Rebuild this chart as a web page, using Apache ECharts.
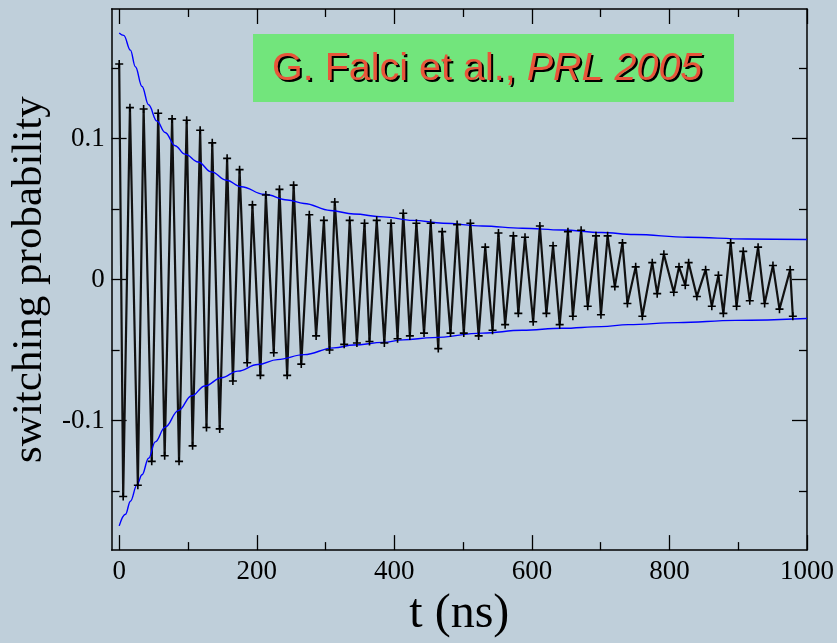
<!DOCTYPE html>
<html>
<head>
    <meta charset="utf-8">
    <script src="https://cdn.jsdelivr.net/npm/echarts@6.0.0/dist/echarts.min.js"></script>
    <style>
        body { margin: 0; background: #bfcfda; }
    </style>
</head>
<body>
    <div id="main" style="width: 837px;height:643px;"></div>

<script type="text/javascript">
var tData = [0, 5.8, 15.6, 27.1, 35.5, 47.3, 56.7, 66.1, 76.9, 87.0,
    98.1, 106.7, 117.7, 126.9, 135.3, 146.1, 156.9, 165.3, 175.0, 186.1,
    193.7, 205.3, 213.2, 224.7, 233.0, 244.2, 253.6, 264.7, 276.4, 286.3,
    297.6, 305.8, 313.4, 327.1, 335.1, 345.6, 356.7, 363.9, 374.4, 385.5,
    395.2, 404.7, 413.0, 422.6, 432.1, 443.2, 452.9, 463.9, 469.6, 481.7,
    491.3, 501.0, 510.6, 522.6, 532.2, 542.8, 551.4, 561.1, 573.1, 580.3,
    590.0, 601.9, 611.6, 621.1, 630.8, 640.4, 652.4, 659.6, 671.6, 681.2,
    693.2, 700.4, 710.1, 720.6, 731.7, 738.9, 750.9, 760.6, 775.0, 782.2,
    791.9, 806.3, 813.9, 823.0, 827.9, 839.9, 852.6, 861.6, 871.2, 878.4,
    889.0, 897.6, 907.3, 916.8, 928.9, 938.4, 950.5, 960.0, 975.5, 979.4];
var pData = [0.153, -0.154, 0.122, -0.146, 0.121, -0.129, 0.118, -0.125, 0.114, -0.129,
    0.113, -0.118, 0.106, -0.105, 0.097, -0.106, 0.086, -0.072, 0.078, -0.059,
    0.053, -0.068, 0.060, -0.052, 0.064, -0.068, 0.067, -0.060, 0.046, -0.040,
    0.042, -0.050, 0.055, -0.046, 0.042, -0.045, 0.040, -0.044, 0.042, -0.045,
    0.040, -0.042, 0.047, -0.040, 0.040, -0.038, 0.040, -0.049, 0.034, -0.038,
    0.039, -0.038, 0.040, -0.040, 0.023, -0.036, 0.033, -0.032, 0.031, -0.024,
    0.030, -0.030, 0.038, -0.024, 0.024, -0.032, 0.034, -0.026, 0.035, -0.019,
    0.031, -0.025, 0.031, -0.005, 0.026, -0.017, 0.009, -0.026, 0.012, -0.010,
    0.018, -0.009, 0.009, -0.004, 0.012, -0.012, 0.007, -0.019, 0.003, -0.024,
    0.026, -0.019, 0.020, -0.015, 0.023, -0.017, 0.010, -0.021, 0.007, -0.026];

// blue envelope, upper and lower branch
var tUp = [0, 6.6, 16.3, 23.5, 33.2, 42.7, 54.8, 66.8, 81.2, 95.6, 114.8, 134.1, 155.8, 177.4,
    211, 244.6, 268.7, 307, 341, 384, 427, 471, 528, 586, 644, 701, 749, 827, 913, 1000];
var vUp = [0.175, 0.1733, 0.1628, 0.151, 0.137, 0.124, 0.1125, 0.1044, 0.095, 0.089, 0.0834, 0.0764, 0.0705, 0.0659,
    0.0605, 0.0565, 0.054, 0.049, 0.0465, 0.0445, 0.042, 0.040, 0.038, 0.0364, 0.0352, 0.0334, 0.032, 0.030, 0.0288, 0.0284];
var tLo = [0, 9.1, 16.3, 26, 33.2, 42.7, 52.4, 66.8, 86, 105.3, 124.5, 148.6, 172.5, 201.4,
    230.2, 268.7, 312, 341, 384, 413, 456, 528, 586, 644, 701, 740, 812, 896, 1000];
var vLo = [-0.1748, -0.1666, -0.1573, -0.1455, -0.1385, -0.1268, -0.1152, -0.1047, -0.093, -0.0825, -0.0755, -0.0697, -0.065, -0.0603,
    -0.0568, -0.0533, -0.0485, -0.0465, -0.0446, -0.0428, -0.0412, -0.038, -0.036, -0.0346, -0.0334, -0.032, -0.0306, -0.029, -0.0276];

// ticks
var xMajor = [0, 200, 400, 600, 800, 1000];
var xMinor = [100, 300, 500, 700, 900];
var yMajor = [-0.1, 0, 0.1];
var yMinor = [-0.15, -0.05, 0.05, 0.15];

function zip(a, b) {
    return a.map(function (v, i) { return [v, b[i]]; });
}

var serif = 'Liberation Serif';
var black = { color: '#000', width: 1.3 };

function xAx(pos, ticks, len, labels) {
    return {
        type: 'value', min: -11, max: 1000, position: pos,
        axisLine: { show: labels, onZero: false, lineStyle: { color: '#000', width: 1.5 } },
        axisTick: { inside: true, length: len, customValues: ticks, lineStyle: black },
        axisLabel: labels && pos === 'bottom'
            ? { customValues: ticks, fontFamily: serif, fontSize: 27, color: '#000', margin: 8,
                formatter: function (v) { return String(v); } }
            : { show: false },
        splitLine: { show: false }
    };
}
function yAx(pos, ticks, len, labels) {
    return {
        type: 'value', min: -0.192, max: 0.192, position: pos,
        axisLine: { show: labels, onZero: false, lineStyle: { color: '#000', width: 1.5 } },
        axisTick: { inside: true, length: len, customValues: ticks, lineStyle: black },
        axisLabel: labels && pos === 'left'
            ? { customValues: ticks, fontFamily: serif, fontSize: 27, color: '#000', margin: 7 }
            : { show: false },
        splitLine: { show: false }
    };
}

var xAxes = [xAx('bottom', xMajor, 15, true), xAx('bottom', xMinor, 8, false),
             xAx('top', xMajor, 15, true), xAx('top', xMinor, 8, false)];
xAxes[0].name = 't (ns)';
xAxes[0].nameLocation = 'middle';
xAxes[0].nameGap = 29;
xAxes[0].nameTextStyle = { fontFamily: serif, fontSize: 48, color: '#000' };

var yAxes = [yAx('left', yMajor, 15, true), yAx('left', yMinor, 8, false),
             yAx('right', yMajor, 15, true), yAx('right', yMinor, 8, false)];
yAxes[0].name = 'switching probability';
yAxes[0].nameLocation = 'middle';
yAxes[0].nameGap = 49;
yAxes[0].nameTextStyle = { fontFamily: serif, fontSize: 43, color: '#000' };

var rich = function (fill) {
    return {
        a: { fontFamily: 'Liberation Sans', fontSize: 39.5, fill: fill },
        b: { fontFamily: 'Liberation Sans', fontSize: 39.5, fontStyle: 'italic', fill: fill }
    };
};
var label = '{a|G. Falci et al., }{b|PRL 2005}';

var myChart = echarts.init(document.getElementById('main'));
var option = {
    animation: false,
    backgroundColor: '#bfcfda',
    grid: { left: 106, right: 30, top: 9, bottom: 86 },
    xAxis: xAxes,
    yAxis: yAxes,
    graphic: [
        {
            type: 'rect', left: 253, top: 34, z: 10,
            shape: { width: 481, height: 68 },
            style: { fill: '#72e57c' }
        },
        {
            // drop shadow
            type: 'text', x: 274, y: 71, z: 11,
            style: { text: label, verticalAlign: 'middle', rich: rich('#000') }
        },
        {
            type: 'text', x: 272, y: 69, z: 12,
            style: { text: label, verticalAlign: 'middle', rich: rich('#e8553a') }
        }
    ],
    series: [
        {
            name: 'data',
            type: 'line',
            data: zip(tData, pData),
            symbol: 'path://M0,4h10v2h-10zM4,0h2v10h-2z',
            symbolSize: 8,
            itemStyle: { color: '#000' },
            lineStyle: { color: '#111', width: 2.2 }
        },
        {
            name: 'upper',
            type: 'line',
            data: zip(tUp, vUp),
            showSymbol: false,
            smooth: 0.4,
            smoothMonotone: 'x',
            lineStyle: { color: '#0000ff', width: 1.4 }
        },
        {
            name: 'lower',
            type: 'line',
            data: zip(tLo, vLo),
            showSymbol: false,
            smooth: 0.4,
            smoothMonotone: 'x',
            lineStyle: { color: '#0000ff', width: 1.4 }
        }
    ]
};
myChart.setOption(option);
</script>
</body>
</html>
